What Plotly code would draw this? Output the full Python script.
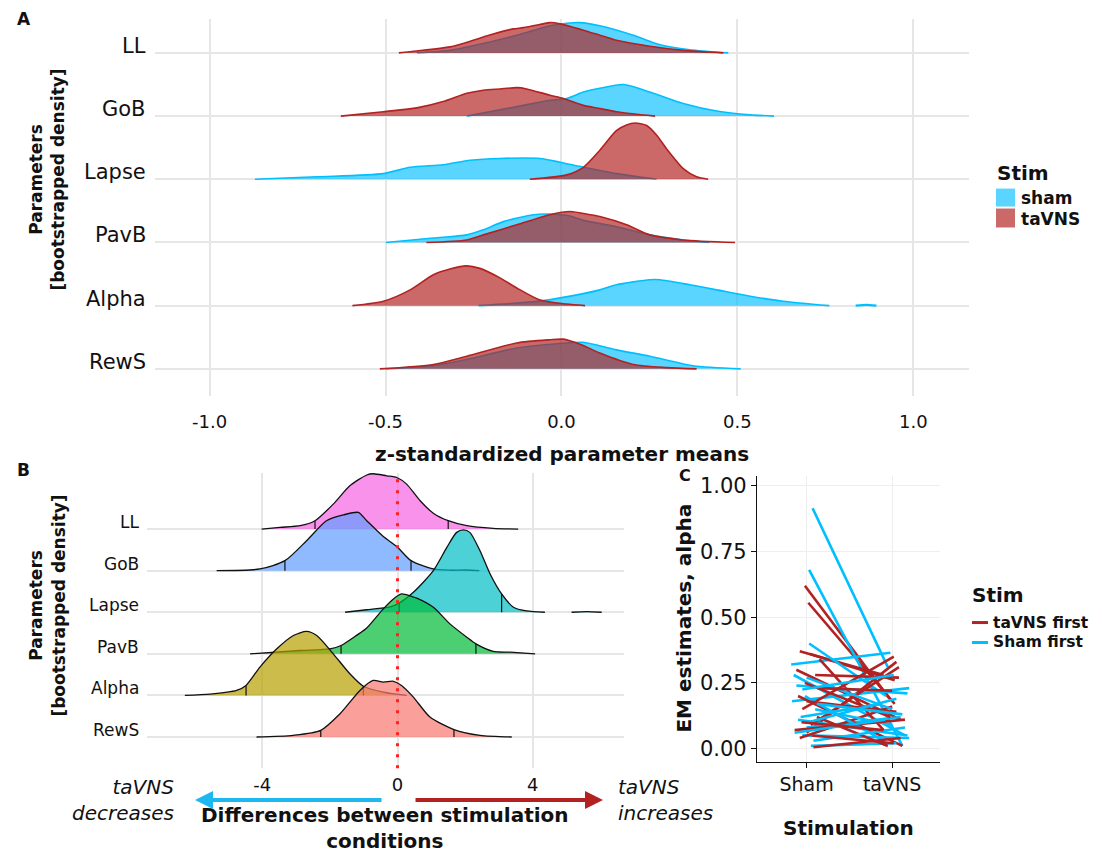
import numpy as np
import plotly.graph_objects as go

# The page body has an 8px margin; the figure is sized so that it fills the window from (8, 8).
OFF = 8
W, H = 1102 - OFF, 852 - OFF
FONT = "DejaVu Sans"

# ---------------- Panel A data (z-standardized parameter means) ----------------
param_rows = ["RewS", "Alpha", "PavB", "Lapse", "GoB", "LL"]  # bottom -> top
a_ticks = [-1.0, -0.5, 0.0, 0.5, 1.0]
a_tick_text = ["-1.0", "-0.5", "0.0", "0.5", "1.0"]

a_ll_sham_x = [-0.411, -0.317, -0.222, -0.127, -0.033, 0.015, 0.052, 0.109, 0.204, 0.28, 0.365, 0.474]
a_ll_sham_h = [0, 0.04, 0.15, 0.28, 0.43, 0.47, 0.48, 0.43, 0.28, 0.13, 0.05, 0]
a_ll_tavns_x = [-0.462, -0.411, -0.317, -0.279, -0.222, -0.194, -0.137, -0.108, -0.052, -0.033, -0.004,
                0.062, 0.109, 0.156, 0.251, 0.346, 0.46]
a_ll_tavns_h = [0, 0.03, 0.095, 0.15, 0.25, 0.30, 0.38, 0.40, 0.46, 0.48, 0.46, 0.36, 0.28, 0.20, 0.105, 0.04, 0]

a_gob_sham_x = [-0.269, -0.127, -0.033, 0.015, 0.062, 0.109, 0.176, 0.251, 0.346, 0.441, 0.536, 0.604]
a_gob_sham_h = [0, 0.15, 0.25, 0.28, 0.38, 0.44, 0.50, 0.38, 0.20, 0.08, 0.02, 0]
a_gob_tavns_x = [-0.627, -0.506, -0.411, -0.336, -0.269, -0.222, -0.175, -0.127, -0.099, -0.033, 0.005,
                 0.062, 0.109, 0.156, 0.266]
a_gob_tavns_h = [0, 0.07, 0.13, 0.23, 0.36, 0.41, 0.43, 0.45, 0.43, 0.33, 0.28, 0.17, 0.12, 0.07, 0]

a_lapse_sham_x = [-0.871, -0.695, -0.506, -0.43, -0.336, -0.26, -0.175, -0.061, -0.004, 0.062, 0.109, 0.156, 0.27]
a_lapse_sham_h = [0, 0.04, 0.09, 0.19, 0.23, 0.30, 0.33, 0.33, 0.27, 0.19, 0.14, 0.09, 0]
a_lapse_tavns_x = [-0.09, 0.015, 0.062, 0.109, 0.156, 0.185, 0.209, 0.242, 0.27, 0.299, 0.346, 0.384, 0.417]
a_lapse_tavns_h = [0, 0.07, 0.19, 0.46, 0.77, 0.86, 0.89, 0.85, 0.70, 0.48, 0.17, 0.04, 0]

a_pavb_sham_x = [-0.499, -0.364, -0.269, -0.222, -0.165, -0.08, -0.033, 0.024, 0.062, 0.156, 0.251, 0.346, 0.42]
a_pavb_sham_h = [0, 0.07, 0.12, 0.20, 0.33, 0.44, 0.45, 0.42, 0.35, 0.25, 0.12, 0.04, 0]
a_pavb_tavns_x = [-0.384, -0.269, -0.222, -0.127, -0.033, 0.024, 0.081, 0.109, 0.185, 0.251, 0.346, 0.493]
a_pavb_tavns_h = [0, 0.04, 0.12, 0.28, 0.44, 0.49, 0.44, 0.41, 0.28, 0.12, 0.04, 0]

a_alpha_sham_x = [-0.236, -0.127, -0.052, 0.062, 0.109, 0.156, 0.251, 0.28, 0.365, 0.441, 0.536, 0.63, 0.761]
a_alpha_sham_h = [0, 0.04, 0.08, 0.19, 0.25, 0.33, 0.41, 0.41, 0.33, 0.25, 0.15, 0.07, 0]
a_alpha_sham_tail_x = [0.836, 0.866, 0.895]
a_alpha_sham_tail_h = [0, 0.012, 0]
a_alpha_tavns_x = [-0.594, -0.506, -0.43, -0.364, -0.317, -0.269, -0.232, -0.175, -0.127, -0.061, 0.015, 0.067]
a_alpha_tavns_h = [0, 0.07, 0.25, 0.49, 0.58, 0.63, 0.59, 0.44, 0.28, 0.09, 0.025, 0]

a_rews_sham_x = [-0.50, -0.364, -0.269, -0.127, 0.015, 0.062, 0.156, 0.251, 0.374, 0.509]
a_rews_sham_h = [0, 0.05, 0.15, 0.33, 0.41, 0.42, 0.30, 0.20, 0.05, 0]
a_rews_tavns_x = [-0.516, -0.364, -0.269, -0.127, -0.033, 0.005, 0.038, 0.062, 0.109, 0.204, 0.299, 0.384]
a_rews_tavns_h = [0, 0.07, 0.20, 0.41, 0.46, 0.47, 0.42, 0.37, 0.25, 0.07, 0.02, 0]

# ---------------- Panel B data (differences between conditions) ----------------
b_ticks = [-4, 0, 4]
b_tick_text = ["-4", "0", "4"]

b_ll_x = [-4.02, -3.48, -2.88, -2.44, -1.90, -1.41, -0.91, -0.72, -0.32, -0.02, 0.27, 0.67, 1.06, 1.50, 2.05, 2.83, 3.57]
b_ll_h = [0, 0.04, 0.08, 0.2, 0.6, 1.04, 1.30, 1.33, 1.28, 1.24, 1.08, 0.68, 0.38, 0.2, 0.08, 0.015, 0]
b_ll_q = [-2.44, 1.50]

b_gob_x = [-5.35, -4.07, -3.33, -2.69, -2.10, -1.60, -1.16, -0.91, -0.42, -0.02, 0.40, 1.06, 1.55, 2.0, 2.42]
b_gob_h = [0, 0.04, 0.24, 0.72, 1.2, 1.34, 1.4, 1.2, 0.82, 0.58, 0.24, 0.04, 0.01, 0.015, 0]
b_gob_q = [-3.33, 0.40]

b_lapse_x = [-1.55, -0.91, -0.22, 0.05, 0.47, 1.06, 1.46, 1.75, 1.95, 2.14, 2.44, 2.74, 3.08, 3.43, 3.82, 4.36]
b_lapse_h = [0, 0.06, 0.13, 0.22, 0.48, 1.0, 1.56, 1.92, 1.98, 1.92, 1.48, 0.92, 0.44, 0.12, 0.03, 0]
b_lapse_q = [0.05, 3.08]
b_lapse_tail_x = [5.15, 5.6, 6.04]
b_lapse_tail_h = [0, 0.015, 0]

b_pavb_x = [-4.36, -2.88, -2.0, -1.67, -1.2, -0.91, -0.42, -0.12, 0.12, 0.42, 0.57, 1.06, 1.55, 2.05, 2.32, 2.83, 3.33, 4.07]
b_pavb_h = [0, 0.08, 0.12, 0.2, 0.45, 0.62, 1.08, 1.32, 1.44, 1.38, 1.34, 1.12, 0.72, 0.40, 0.24, 0.06, 0.04, 0]
b_pavb_q = [-1.67, 2.32]

b_alpha_x = [-6.29, -5.55, -4.76, -4.48, -4.07, -3.57, -3.08, -2.69, -2.39, -1.90, -1.41, -1.01, -0.42, 0.27]
b_alpha_h = [0, 0.03, 0.12, 0.24, 0.68, 1.12, 1.44, 1.54, 1.44, 1.0, 0.52, 0.22, 0.08, 0]
b_alpha_q = [-4.48, -1.01]

b_rews_x = [-4.17, -3.08, -2.27, -1.70, -1.11, -0.72, -0.42, -0.12, 0.12, 0.47, 0.96, 1.67, 2.44, 3.38]
b_rews_h = [0, 0.04, 0.16, 0.56, 1.12, 1.36, 1.32, 1.34, 1.24, 0.96, 0.48, 0.18, 0.04, 0]
b_rews_q = [-2.27, 1.67]

# ---------------- Panel C data (EM estimates, alpha; jittered positions) ----------------
c_conditions = ["Sham", "taVNS"]
c_yticks = [0.0, 0.25, 0.5, 0.75, 1.0]
c_ytick_text = ["0.00", "0.25", "0.50", "0.75", "1.00"]

c_tf_sham_pos = [0.98, 1.02, 0.92, 1.04, 0.88, 1.15, 1.00, 0.95, 1.10, 0.90, 1.05, 0.92, 1.08, 0.98, 1.12, 0.86, 1.00, 1.06, 0.94, 1.13]
c_tf_sham_val = [0.62, 0.555, 0.37, 0.36, 0.30, 0.34, 0.06, 0.15, 0.28, 0.20, 0.09, 0.04, 0.005, 0.25, 0.12, 0.07, 0.18, 0.05, 0.10, 0.23]
c_tf_tavns_pos = [1.97, 2.03, 1.90, 2.03, 2.10, 1.93, 2.05, 2.02, 2.08, 2.12, 2.08, 2.00, 2.10, 1.98, 1.95, 2.15, 2.05, 2.02, 1.90, 2.00]
c_tf_tavns_val = [0.19, 0.17, 0.28, 0.26, 0.11, 0.06, 0.33, 0.35, 0.27, 0.01, 0.31, 0.16, 0.04, 0.12, 0.01, 0.11, 0.14, 0.02, 0.07, 0.22]

c_sf_sham_pos = [1.07, 1.03, 0.82, 1.03, 0.85, 0.88, 0.83, 0.90, 1.00, 1.05, 0.95, 0.98, 1.10, 0.93, 1.00, 1.08, 1.02, 0.86, 1.12, 0.95]
c_sf_sham_val = [0.915, 0.68, 0.32, 0.40, 0.28, 0.24, 0.18, 0.11, 0.08, 0.01, 0.05, 0.20, 0.15, 0.12, 0.27, 0.03, 0.10, 0.06, 0.17, 0.225]
c_sf_tavns_pos = [1.95, 2.12, 1.98, 1.93, 2.15, 2.18, 2.20, 2.18, 2.10, 2.05, 2.20, 1.90, 2.00, 1.88, 2.00, 2.15, 2.05, 1.92, 2.12, 2.02]
c_sf_tavns_val = [0.31, 0.01, 0.365, 0.20, 0.05, 0.21, 0.23, 0.05, 0.12, 0.02, 0.04, 0.03, 0.09, 0.17, 0.15, 0.08, 0.19, 0.11, 0.13, 0.28]

# ---------------- styles ----------------
SHAM_FILL = "rgba(0,191,255,0.65)"
SHAM_LINE = "#00BFFF"
TAVNS_FILL = "rgba(178,34,34,0.68)"
TAVNS_LINE = "#B22222"
GRID = "#E6E6E6"
b_colors = {"LL": "#F564E3", "GoB": "#619CFF", "Lapse": "#00BFC4",
            "PavB": "#00BA38", "Alpha": "#B79F00", "RewS": "#F8766D"}


def rgba(hexc, a):
    hexc = hexc.lstrip("#")
    r, g, b = int(hexc[0:2], 16), int(hexc[2:4], 16), int(hexc[4:6], 16)
    return f"rgba({r},{g},{b},{a})"


def px(X):
    return (X - OFF) / W


def py(Y):
    return 1 - (Y - OFF) / H


row_of = {p: i + 1 for i, p in enumerate(param_rows)}
fig = go.Figure()


def ridge(xs, hs, row, fill, line, lw, xa, ya, smooth=0.7):
    ys = [row + h for h in hs]
    return go.Scatter(x=xs, y=ys, mode="lines", fill="toself", fillcolor=fill,
                      line=dict(color=line, width=lw, shape="spline", smoothing=smooth),
                      hoverinfo="skip", showlegend=False, xaxis=xa, yaxis=ya)


# Panel A traces (top row first)
a_data = [
    ("LL", a_ll_sham_x, a_ll_sham_h, a_ll_tavns_x, a_ll_tavns_h),
    ("GoB", a_gob_sham_x, a_gob_sham_h, a_gob_tavns_x, a_gob_tavns_h),
    ("Lapse", a_lapse_sham_x, a_lapse_sham_h, a_lapse_tavns_x, a_lapse_tavns_h),
    ("PavB", a_pavb_sham_x, a_pavb_sham_h, a_pavb_tavns_x, a_pavb_tavns_h),
    ("Alpha", a_alpha_sham_x, a_alpha_sham_h, a_alpha_tavns_x, a_alpha_tavns_h),
    ("RewS", a_rews_sham_x, a_rews_sham_h, a_rews_tavns_x, a_rews_tavns_h),
]
for name, sx, sh, tx, th in a_data:
    r = row_of[name]
    fig.add_trace(ridge(sx, sh, r, SHAM_FILL, SHAM_LINE, 1.6, "x", "y"))
    if name == "Alpha":
        fig.add_trace(ridge(a_alpha_sham_tail_x, a_alpha_sham_tail_h, r, SHAM_FILL, SHAM_LINE, 2.2, "x", "y"))
    fig.add_trace(ridge(tx, th, r, TAVNS_FILL, TAVNS_LINE, 1.6, "x", "y"))

# Panel B traces (top row first; lower rows drawn on top)
b_data = [
    ("LL", b_ll_x, b_ll_h, b_ll_q),
    ("GoB", b_gob_x, b_gob_h, b_gob_q),
    ("Lapse", b_lapse_x, b_lapse_h, b_lapse_q),
    ("PavB", b_pavb_x, b_pavb_h, b_pavb_q),
    ("Alpha", b_alpha_x, b_alpha_h, b_alpha_q),
    ("RewS", b_rews_x, b_rews_h, b_rews_q),
]
for name, bx, bh, bq in b_data:
    r = row_of[name]
    fig.add_trace(ridge(bx, bh, r, rgba(b_colors[name], 0.7), "#111111", 1.3, "x2", "y2"))
    if name == "Lapse":
        fig.add_trace(ridge(b_lapse_tail_x, b_lapse_tail_h, r, rgba(b_colors[name], 0.7), "#111111", 1.3, "x2", "y2"))
    qx, qy = [], []
    for q in bq:
        qx += [q, q, None]
        qy += [r, r + float(np.interp(q, bx, bh)), None]
    fig.add_trace(go.Scatter(x=qx, y=qy, mode="lines", line=dict(color="#111111", width=1.2),
                             hoverinfo="skip", showlegend=False, xaxis="x2", yaxis="y2"))

# Panel C traces
for i in range(len(c_tf_sham_val)):
    fig.add_trace(go.Scatter(x=[c_tf_sham_pos[i], c_tf_tavns_pos[i]], y=[c_tf_sham_val[i], c_tf_tavns_val[i]],
                             mode="lines", line=dict(color=TAVNS_LINE, width=2.6),
                             hoverinfo="skip", showlegend=False, xaxis="x3", yaxis="y3"))
    fig.add_trace(go.Scatter(x=[c_sf_sham_pos[i], c_sf_tavns_pos[i]], y=[c_sf_sham_val[i], c_sf_tavns_val[i]],
                             mode="lines", line=dict(color=SHAM_LINE, width=2.6),
                             hoverinfo="skip", showlegend=False, xaxis="x3", yaxis="y3"))

tickfont = dict(family=FONT, size=18, color="#111111")

fig.update_layout(
    width=W, height=H, margin=dict(l=0, r=0, t=0, b=0),
    paper_bgcolor="white", plot_bgcolor="white", showlegend=False,
    xaxis=dict(domain=[px(155), px(969)], range=[-1.155, 1.158], tickvals=a_ticks, ticktext=a_tick_text,
               showgrid=True, gridcolor=GRID, gridwidth=2, zeroline=False, showline=False, ticks="",
               tickfont=tickfont, ticklabelstandoff=13, anchor="y", fixedrange=True),
    yaxis=dict(domain=[py(395), py(17)], range=[0.569, 6.537], tickvals=[1, 2, 3, 4, 5, 6],
               showticklabels=False, showgrid=True, gridcolor=GRID, gridwidth=2, zeroline=False,
               showline=False, ticks="", anchor="x", fixedrange=True),
    xaxis2=dict(domain=[px(147), px(624)], range=[-7.41, 6.70], tickvals=b_ticks, ticktext=b_tick_text,
                showgrid=True, gridcolor=GRID, gridwidth=2, zeroline=False, showline=False, ticks="",
                tickfont=tickfont, ticklabelstandoff=4, anchor="y2", fixedrange=True),
    yaxis2=dict(domain=[py(768), py(472)], range=[0.25, 7.35], tickvals=[1, 2, 3, 4, 5, 6],
                showticklabels=False, showgrid=True, gridcolor=GRID, gridwidth=2, zeroline=False,
                showline=False, ticks="", anchor="x2", fixedrange=True),
    xaxis3=dict(domain=[px(757), px(940)], range=[0.42, 2.56], tickvals=[1, 2], ticktext=c_conditions,
                showgrid=True, gridcolor="#EEEEEE", gridwidth=1, zeroline=False, showline=True,
                linecolor="#111111", linewidth=1.3, ticks="outside", ticklen=5, tickcolor="#111111",
                tickfont=dict(family=FONT, size=19, color="#111111"), anchor="y3", fixedrange=True),
    yaxis3=dict(domain=[py(762), py(475)], range=[-0.052, 1.038], tickvals=c_yticks, ticktext=c_ytick_text,
                showgrid=True, gridcolor="#EEEEEE", gridwidth=1, zeroline=False, showline=True,
                linecolor="#111111", linewidth=1.3, ticks="outside", ticklen=5, tickcolor="#111111",
                tickfont=dict(family=FONT, size=21, color="#111111"), anchor="x3", fixedrange=True),
)

# red dotted zero line in panel B
fig.add_shape(type="line", xref="x2", yref="y2 domain", x0=0, x1=0, y0=0, y1=1,
              line=dict(color="#FF2020", width=3, dash="3px,8px"), layer="above")

ann = []


def text(X, Y, s, size, xanchor="center", yanchor="middle", angle=0, align="center", color="#111111"):
    ann.append(dict(x=px(X), y=py(Y), xref="paper", yref="paper", text=s, showarrow=False,
                    xanchor=xanchor, yanchor=yanchor, textangle=angle, align=align,
                    font=dict(family=FONT, size=size, color=color)))


# y category labels (panel A and B), sitting just above their baseline
for p in param_rows:
    r = row_of[p]
    ann.append(dict(x=-0.008, y=r, xref="x domain", yref="y", text=p, showarrow=False,
                    xanchor="right", yanchor="middle", yshift=7,
                    font=dict(family=FONT, size=21, color="#111111")))
    ann.append(dict(x=-0.012, y=r, xref="x2 domain", yref="y2", text=p, showarrow=False,
                    xanchor="right", yanchor="middle", yshift=7,
                    font=dict(family=FONT, size=17, color="#111111")))

# panel letters
text(15, 17, "<b>A</b>", 17, xanchor="left")
text(15, 469, "<b>B</b>", 17, xanchor="left")
text(677, 475, "<b>C</b>", 16, xanchor="left")

# axis titles
text(47, 178, "<b>Parameters<br>[bootstrapped density]</b>", 17, angle=-90)
text(562, 453, "<b>z-standardized parameter means</b>", 20)
text(47, 605, "<b>Parameters<br>[bootstrapped density]</b>", 17, angle=-90)
text(385, 828, "<b>Differences between stimulation<br>conditions</b>", 20)
text(176, 800, "<i>taVNS<br>decreases</i>", 20, xanchor="right", align="right")
text(616, 800, "<i>taVNS<br>increases</i>", 20, xanchor="left", align="left")
text(684, 618, "<b>EM estimates, alpha</b>", 20, angle=-90)
text(848, 828, "<b>Stimulation</b>", 20)

# direction arrows under panel B
ann.append(dict(x=px(195), y=py(800), xref="paper", yref="paper", ax=188, ay=0, axref="pixel", ayref="pixel",
                showarrow=True, arrowhead=2, arrowsize=0.9, arrowwidth=4, arrowcolor="#1EB8F0", text=""))
ann.append(dict(x=px(603), y=py(800), xref="paper", yref="paper", ax=-189, ay=0, axref="pixel", ayref="pixel",
                showarrow=True, arrowhead=2, arrowsize=0.9, arrowwidth=4, arrowcolor="#B22222", text=""))

# legend panel A
text(995, 171, "<b>Stim</b>", 20, xanchor="left")
fig.add_shape(type="rect", xref="paper", yref="paper", x0=px(996), x1=px(1015), y0=py(205), y1=py(187),
              fillcolor=SHAM_FILL, line=dict(width=0))
fig.add_shape(type="rect", xref="paper", yref="paper", x0=px(996), x1=px(1015), y0=py(226), y1=py(207),
              fillcolor=TAVNS_FILL, line=dict(width=0))
text(1019, 196, "<b>sham</b>", 17, xanchor="left")
text(1019, 217, "<b>taVNS</b>", 17, xanchor="left")

# legend panel C
text(970, 594, "<b>Stim</b>", 20, xanchor="left")
fig.add_shape(type="line", xref="paper", yref="paper", x0=px(972), x1=px(988), y0=py(622), y1=py(622),
              line=dict(color=TAVNS_LINE, width=3))
fig.add_shape(type="line", xref="paper", yref="paper", x0=px(972), x1=px(988), y0=py(642), y1=py(642),
              line=dict(color=SHAM_LINE, width=3))
text(991, 622, "<b>taVNS first</b>", 15.5, xanchor="left")
text(991, 642, "<b>Sham first</b>", 15.5, xanchor="left")

fig.update_layout(annotations=ann)
fig.write_html("out.html")
